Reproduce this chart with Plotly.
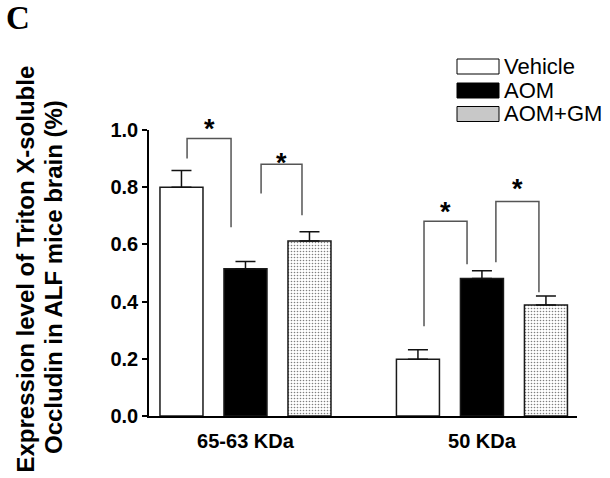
import plotly.graph_objects as go

# ---------------- data ----------------
categories = ["65-63 KDa", "50 KDa"]
series_names = ["Vehicle", "AOM", "AOM+GM"]
vehicle_vals = [0.80, 0.198]
vehicle_err = [0.058, 0.034]
aom_vals = [0.515, 0.481]
aom_err = [0.025, 0.027]
aomgm_vals = [0.612, 0.388]
aomgm_err = [0.032, 0.032]
y_ticks = [0.0, 0.2, 0.4, 0.6, 0.8, 1.0]

# significance brackets: (x_left, x_right, y_left_leg, y_top, y_right_leg, y_star)
brackets = [
    (-0.247, -0.061, 0.900, 0.970, 0.660, 1.026),
    (0.066, 0.239, 0.778, 0.880, 0.702, 0.904),
    (0.755, 0.937, 0.314, 0.681, 0.531, 0.733),
    (1.059, 1.241, 0.538, 0.750, 0.433, 0.813),
]

# ---------------- layout geometry ----------------
W, H = 610, 478
ML, MR, MT, MB = 149, 33, 130, 62
PW = W - ML - MR
PH = H - MT - MB


def px_x(px):
    return (px - ML) / PW


def px_y(py):
    return (H - MB - py) / PH


FONT = "Liberation Sans, Arial, sans-serif"

fig = go.Figure()

common = dict(marker_line=dict(color="#1a1a1a", width=1.5), showlegend=False)
err_style = dict(type="data", symmetric=False, color="#111", thickness=1.5, width=10)

fig.add_trace(go.Bar(
    x=categories, y=vehicle_vals, name=series_names[0],
    marker=dict(color="white"),
    error_y=dict(array=vehicle_err, arrayminus=[0] * len(vehicle_err), **err_style),
    **common))
fig.add_trace(go.Bar(
    x=categories, y=aom_vals, name=series_names[1],
    marker=dict(color="black"),
    error_y=dict(array=aom_err, arrayminus=[0] * len(aom_err), **err_style),
    **common))
fig.add_trace(go.Bar(
    x=categories, y=aomgm_vals, name=series_names[2],
    marker=dict(color="white",
                pattern=dict(shape=".", size=3, solidity=0.22,
                             fgcolor="black", bgcolor="white", fillmode="overlay")),
    error_y=dict(array=aomgm_err, arrayminus=[0] * len(aomgm_err), **err_style),
    **common))

shapes = []
annotations = []
for xl, xr, yl, yt, yr, ys in brackets:
    shapes.append(dict(
        type="path", xref="x", yref="y",
        path=f"M {xl},{yl} L {xl},{yt} L {xr},{yt} L {xr},{yr}",
        line=dict(color="#555", width=1.5)))
    # y axis spans paper 0..1 exactly, so the paper value equals the data value
    annotations.append(dict(
        x=(xl + xr) / 2, y=ys, xref="x", yref="paper", text="<b>*</b>",
        showarrow=False, xanchor="center", yanchor="middle", yshift=-6,
        font=dict(family=FONT, size=27, color="black")))

# custom legend
leg_rows = [66.5, 90.5, 114.0]
leg_fills = ["white", "black", "#c8c8c8"]
for name, cy, fill in zip(series_names, leg_rows, leg_fills):
    shapes.append(dict(
        type="rect", xref="paper", yref="paper",
        x0=px_x(457), x1=px_x(499), y0=px_y(cy + 7.5), y1=px_y(cy - 7.5),
        fillcolor=fill, line=dict(color="black", width=1)))
    annotations.append(dict(
        x=px_x(502), y=px_y(cy), xref="paper", yref="paper", text=name,
        showarrow=False, xanchor="left", yanchor="middle",
        font=dict(family=FONT, size=22, color="black")))

# y-axis title (two lines)
annotations.append(dict(
    x=px_x(25), y=px_y(269.5), xref="paper", yref="paper",
    text="<b>Expression level of Triton X-soluble</b>", textangle=-90,
    showarrow=False, xanchor="center", yanchor="middle",
    font=dict(family=FONT, size=24, color="black")))
annotations.append(dict(
    x=px_x(53.5), y=px_y(277.5), xref="paper", yref="paper",
    text="<b>Occludin in ALF mice brain (%)</b>", textangle=-90,
    showarrow=False, xanchor="center", yanchor="middle",
    font=dict(family=FONT, size=24, color="black")))

# panel letter
annotations.append(dict(
    x=px_x(4), y=px_y(-2.5), xref="paper", yref="paper",
    text="<b>C</b>", showarrow=False, xanchor="left", yanchor="top",
    font=dict(family="Liberation Serif, Times New Roman, serif", size=33, color="black")))

fig.update_layout(
    width=W, height=H,
    margin=dict(l=ML, r=MR, t=MT, b=MB, pad=0),
    paper_bgcolor="white", plot_bgcolor="white",
    barmode="group", bargap=0.188, bargroupgap=0.328,
    shapes=shapes, annotations=annotations,
    showlegend=False,
)
fig.update_xaxes(
    range=[-0.408, 1.402], showgrid=False, zeroline=False,
    showline=True, linecolor="black", linewidth=1.5,
    ticks="", ticklabelstandoff=6,
    tickfont=dict(family=FONT, size=20, color="black", weight="bold"),
)
fig.update_yaxes(
    range=[0, 1.0], tickvals=y_ticks, tickformat=".1f",
    showgrid=False, zeroline=False,
    showline=True, linecolor="black", linewidth=1.5,
    ticks="outside", ticklen=5, tickwidth=1.5, tickcolor="black",
    tickfont=dict(family=FONT, size=20, color="black", weight="bold"),
)

fig.write_html(
    "out.html",
    config={"displayModeBar": False},
    post_script="document.body.style.margin='0';document.body.style.overflow='hidden';",
)
